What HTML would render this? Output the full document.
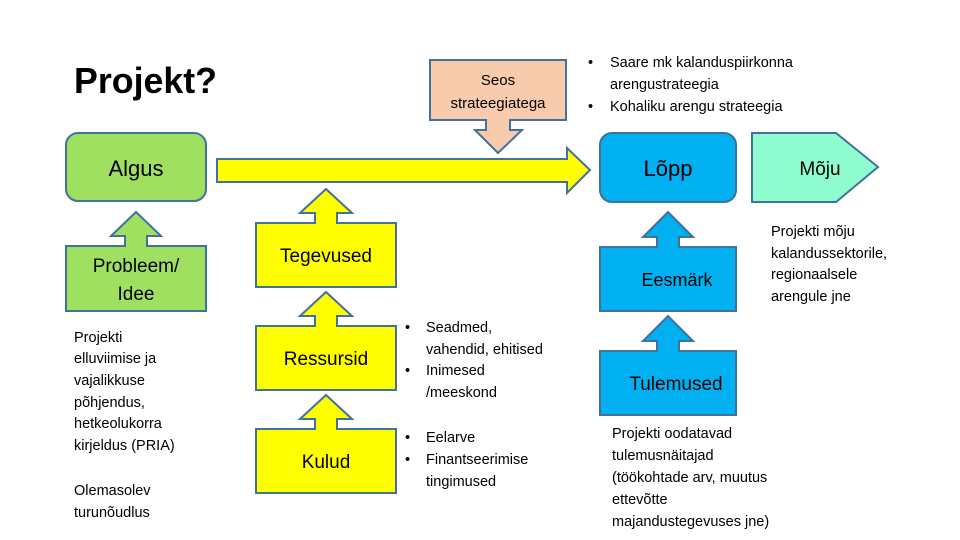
<!DOCTYPE html>
<html><head><meta charset="utf-8"><style>
html,body{margin:0;padding:0;background:#fff}
svg{display:block}
text{font-family:"Liberation Sans",sans-serif;fill:#000}
</style></head><body>
<svg width="960" height="540" viewBox="0 0 960 540" xmlns="http://www.w3.org/2000/svg">
<g stroke="#41719c" stroke-width="2">
<!-- Algus -->
<rect x="66" y="133" width="140" height="68" rx="12" fill="#a0e060"/>
<!-- yellow main arrow -->
<polygon points="217,159 567,159 567,148 590,170 567,193 567,182 217,182" fill="#ffff00"/>
<!-- Probleem -->
<polygon points="66,246 125,246 125,236 111,236 136,212 161,236 147,236 147,246 206,246 206,311 66,311" fill="#a0e060"/>
<!-- Tegevused -->
<polygon points="256,223 315,223 315,213 300,213 326,189 352,213 337,213 337,223 396,223 396,287 256,287" fill="#ffff00"/>
<polygon points="256,326 315,326 315,316 300,316 326,292 352,316 337,316 337,326 396,326 396,390 256,390" fill="#ffff00"/>
<polygon points="256,429 315,429 315,419 300,419 326,395 352,419 337,419 337,429 396,429 396,493 256,493" fill="#ffff00"/>
<!-- Seos -->
<polygon points="430,60 566,60 566,120 510,120 510,130 522,130 498,153 475,130 486,130 486,120 430,120" fill="#f8cbad"/>
<!-- Lopp -->
<rect x="600" y="133" width="136" height="69" rx="12" fill="#00b0f0"/>
<!-- Moju -->
<polygon points="752,133 836,133 878,167 836,202 752,202" fill="#8ffccf"/>
<!-- Eesmark -->
<polygon points="600,247 657,247 657,237 643,237 668,212 693,237 679,237 679,247 736,247 736,311 600,311" fill="#00b0f0"/>
<polygon points="600,351 657,351 657,341 643,341 668,316 693,341 679,341 679,351 736,351 736,415 600,415" fill="#00b0f0"/>
</g>
<text x="74" y="93" font-size="36" font-weight="bold" textLength="143" lengthAdjust="spacingAndGlyphs">Projekt?</text>
<text x="136" y="176" font-size="22" text-anchor="middle">Algus</text>
<text x="136" y="272" font-size="19" text-anchor="middle">Probleem/</text>
<text x="136" y="300" font-size="19" text-anchor="middle">Idee</text>
<text x="326" y="262" font-size="19" text-anchor="middle">Tegevused</text>
<text x="326" y="365" font-size="19" text-anchor="middle">Ressursid</text>
<text x="326" y="468" font-size="19" text-anchor="middle">Kulud</text>
<text x="498" y="85" font-size="15" text-anchor="middle">Seos</text>
<text x="498" y="108" font-size="15" text-anchor="middle">strateegiatega</text>
<text x="668" y="176" font-size="22" text-anchor="middle">Lõpp</text>
<text x="820" y="175" font-size="19" text-anchor="middle">Mõju</text>
<text x="677" y="286" font-size="18" text-anchor="middle">Eesmärk</text>
<text x="676" y="390" font-size="19" text-anchor="middle">Tulemused</text>
<g font-size="14.5">
<text x="588" y="67">•</text><text x="610" y="67">Saare mk kalanduspiirkonna</text>
<text x="610" y="89">arengustrateegia</text>
<text x="588" y="111">•</text><text x="610" y="111">Kohaliku arengu strateegia</text>
<text x="74" y="342">Projekti</text>
<text x="74" y="363">elluviimise ja</text>
<text x="74" y="385">vajalikkuse</text>
<text x="74" y="407">põhjendus,</text>
<text x="74" y="428">hetkeolukorra</text>
<text x="74" y="450">kirjeldus (PRIA)</text>
<text x="74" y="495">Olemasolev</text>
<text x="74" y="517">turunõudlus</text>
<text x="405" y="332">•</text><text x="426" y="332">Seadmed,</text>
<text x="426" y="354">vahendid, ehitised</text>
<text x="405" y="375">•</text><text x="426" y="375">Inimesed</text>
<text x="426" y="397">/meeskond</text>
<text x="405" y="442">•</text><text x="426" y="442">Eelarve</text>
<text x="405" y="464">•</text><text x="426" y="464">Finantseerimise</text>
<text x="426" y="486">tingimused</text>
<text x="771" y="236">Projekti mõju</text>
<text x="771" y="258">kalandussektorile,</text>
<text x="771" y="279">regionaalsele</text>
<text x="771" y="301">arengule jne</text>
<text x="612" y="438">Projekti oodatavad</text>
<text x="612" y="460">tulemusnäitajad</text>
<text x="612" y="482">(töökohtade arv, muutus</text>
<text x="612" y="504">ettevõtte</text>
<text x="612" y="526">majandustegevuses jne)</text>
</g>
</svg>
</body></html>
